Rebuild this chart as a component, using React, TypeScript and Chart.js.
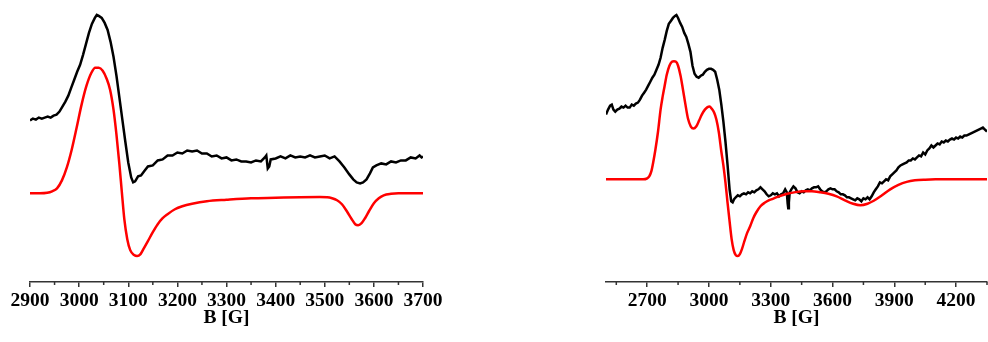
import React, { useEffect, useRef } from "react";
import { Chart, registerables } from "chart.js";

Chart.register(...registerables);

// ---- Spectrum A (left panel): field in G, intensity in arbitrary units ----
const fieldA = [
  2900, 2906, 2912, 2918, 2924, 2930, 2936, 2942, 2948, 2954, 2960, 2966, 2972, 2978, 2984, 2990,
  2996, 3002, 3008, 3014, 3020, 3026, 3032, 3036, 3040, 3046, 3052, 3058, 3064, 3070, 3076, 3082,
  3088, 3094, 3100, 3106, 3110, 3114, 3120, 3126, 3132, 3140, 3150, 3160, 3170, 3180, 3190, 3200,
  3210, 3220, 3230, 3240, 3250, 3260, 3270, 3280, 3290, 3300, 3310, 3320, 3330, 3340, 3350, 3360,
  3370, 3378, 3381, 3384, 3387, 3390, 3400, 3410, 3420, 3430, 3440, 3450, 3460, 3470, 3480, 3490,
  3500, 3510, 3520, 3530, 3540, 3550, 3558, 3565, 3572, 3578, 3585, 3592, 3598, 3605, 3615, 3625,
  3635, 3645, 3655, 3665, 3675, 3685, 3693, 3697, 3700,
];
const expA = [
  162, 164, 163, 165, 164, 165, 166, 165, 167, 168, 171, 176, 181, 187, 195, 203,
  211, 218, 228, 239, 250, 259, 265, 268, 267, 265, 260, 253, 241, 226, 207, 185,
  163, 141, 120, 105, 100, 101, 106, 107, 111, 116, 117, 122, 123, 127, 127, 130,
  129, 132, 131, 132, 129, 129, 126, 127, 124, 125, 122, 123, 121, 121, 120, 122,
  121, 125, 127, 114, 116, 123, 124, 126, 124, 127, 125, 126, 125, 127, 125, 126,
  127, 124, 126, 121, 115, 108, 103, 100, 99, 100, 103, 109, 115, 117, 119, 118,
  121, 120, 122, 122, 125, 124, 127, 125, 126,
];
const simFieldA = [
  2900, 2920, 2935, 2945, 2955, 2965, 2975, 2985, 2995, 3005, 3015, 3025, 3033, 3040, 3048, 3056,
  3063, 3070, 3076, 3082, 3087, 3092, 3098, 3104, 3112, 3118, 3125, 3132, 3140, 3150, 3160, 3170,
  3180, 3195, 3210, 3230, 3260, 3300, 3350, 3400, 3450, 3490, 3505, 3515, 3525, 3535, 3545, 3555,
  3562, 3568, 3575, 3582, 3590, 3600, 3610, 3620, 3635, 3650, 3700,
];
const simA = [
  89, 89, 89.5, 91, 94, 102, 115, 133, 155, 178, 197, 210, 215, 215, 212, 204,
  193, 173, 148, 118, 90, 63, 43, 32, 27, 26, 28, 34, 41, 50, 58, 64,
  68, 73, 76, 78.5, 81, 82.5, 84, 84.5, 85, 85.2, 85, 84, 82, 78, 71, 63,
  58, 57, 59, 64, 71, 79, 84, 87, 88.5, 89, 89,
];
const majorA = [2900, 3000, 3100, 3200, 3300, 3400, 3500, 3600, 3700];
const minorA = [2950, 3050, 3150, 3250, 3350, 3450, 3550, 3650];

// ---- Spectrum B (right panel) ----
const fieldB = [
  2500, 2510, 2520, 2528, 2536, 2545, 2555, 2565, 2575, 2585, 2595, 2605, 2615, 2625, 2635, 2645,
  2655, 2665, 2675, 2685, 2695, 2705, 2715, 2725, 2735, 2745, 2755, 2765, 2775, 2785, 2795, 2805,
  2815, 2825, 2835, 2842, 2850, 2860, 2870, 2880, 2890, 2900, 2910, 2920, 2930, 2940, 2950, 2960,
  2970, 2980, 2990, 3000, 3010, 3020, 3030, 3040, 3050, 3060, 3070, 3080, 3090, 3100, 3108, 3115,
  3122, 3130, 3140, 3150, 3160, 3170, 3180, 3190, 3200, 3210, 3220, 3230, 3240, 3250, 3260, 3270,
  3280, 3290, 3300, 3310, 3320, 3330, 3340, 3350, 3360, 3370, 3378, 3382, 3385, 3388, 3392, 3400,
  3410, 3420, 3430, 3440, 3450, 3460, 3470, 3480, 3490, 3500, 3510, 3520, 3530, 3540, 3550, 3560,
  3570, 3580, 3590, 3600, 3610, 3620, 3630, 3640, 3650, 3660, 3670, 3680, 3690, 3700, 3710, 3720,
  3730, 3740, 3750, 3760, 3770, 3780, 3790, 3800, 3810, 3820, 3830, 3840, 3850, 3860, 3870, 3880,
  3890, 3900, 3910, 3920, 3930, 3940, 3950, 3960, 3970, 3980, 3990, 4000, 4010, 4020, 4030, 4040,
  4050, 4060, 4070, 4080, 4090, 4100, 4110, 4120, 4130, 4140, 4150, 4160, 4170, 4180, 4190, 4200,
  4210, 4220, 4230, 4240, 4250, 4260, 4270, 4280, 4290, 4300, 4310, 4320, 4330, 4340, 4350,
];
const expB = [
  168, 173, 177, 178, 173, 171, 173, 174, 176, 175, 177, 175, 175, 178, 177, 179,
  180, 183, 187, 190, 193, 197, 201, 205, 208, 213, 218, 225, 235, 243, 252, 259,
  262, 265, 267, 268, 265, 260, 256, 250, 246, 239, 231, 217, 209, 206, 205, 207,
  208, 211, 213, 214, 214, 213, 211, 203, 193, 178, 161, 141, 118, 93, 81, 80,
  83, 85, 87, 86, 88, 89, 88, 90, 89, 91, 90, 92, 93, 95, 93, 91,
  88, 86, 87, 89, 88, 89, 86, 88, 89, 93, 90, 79, 74, 80, 90, 93,
  96, 94, 90, 89, 91, 90, 92, 93, 92, 94, 95, 95, 96, 93, 91, 90,
  91, 93, 94, 93, 93, 91, 90, 88, 88, 87, 85, 85, 84, 83, 82, 84,
  83, 81, 84, 83, 85, 83, 86, 90, 93, 96, 100, 99, 101, 103, 102, 106,
  108, 110, 112, 115, 117, 118, 119, 120, 122, 122, 124, 123, 125, 127, 126, 130,
  128, 132, 134, 137, 135, 137, 139, 138, 141, 140, 142, 141, 143, 144, 143, 145,
  144, 146, 145, 147, 147, 148, 149, 150, 151, 152, 153, 154, 155, 153, 151,
];
const simFieldB = [
  2500, 2680, 2700, 2710, 2720, 2730, 2740, 2752, 2765, 2775, 2784, 2795, 2808, 2820, 2830, 2840,
  2850, 2862, 2873, 2885, 2898, 2912, 2925, 2938, 2952, 2965, 2980, 2993, 3003, 3013, 3025, 3036,
  3048, 3060, 3070, 3080, 3090, 3100, 3110, 3120, 3130, 3140, 3150, 3160, 3172, 3185, 3200, 3215,
  3230, 3250, 3270, 3290, 3310, 3340, 3380, 3420, 3460, 3500, 3540, 3580, 3620, 3660, 3700, 3735,
  3770, 3800, 3840, 3880, 3920, 3960, 4000, 4050, 4100, 4350,
];
const simB = [
  103, 103, 104, 106, 111, 121, 133, 150, 173, 186, 196, 208, 217, 221, 221.5, 221,
  217, 207, 194, 179, 164, 156, 154, 156, 162, 168, 173, 175.5, 176, 174, 170, 163,
  150, 131, 117, 100, 80, 61, 43, 32, 27, 26, 28, 33, 41, 49, 56, 64,
  70, 76, 79.5, 82, 83.5, 86, 88.5, 90.2, 91, 91, 90, 88.5, 86, 82, 78.5, 77,
  78.5, 81.5, 87, 93, 97.5, 100.5, 102, 102.7, 103, 103,
];
const majorB = [2700, 3000, 3300, 3600, 3900, 4200];
const minorB = [2550, 2850, 3150, 3450, 3750, 4050, 4350];

const AXIS_COLOR = "#333333";
const FONT_FAMILY = "'Liberation Serif', 'Times New Roman', serif";

const toPoints = (xs: number[], ys: number[]) => xs.map((x, i) => ({ x, y: ys[i] }));

// Short unlabeled ticks between the labeled ones, placed through the x scale
const minorTickPlugin = (values: number[]) => ({
  id: "minorTicks",
  afterDraw(chart: any) {
    const scale = chart.scales.x;
    const ctx = chart.ctx;
    const y0 = chart.chartArea.bottom;
    ctx.save();
    ctx.strokeStyle = AXIS_COLOR;
    ctx.lineWidth = 1.5;
    ctx.beginPath();
    values.forEach((v) => {
      const px = scale.getPixelForValue(v);
      ctx.moveTo(px, y0);
      ctx.lineTo(px, y0 + 3);
    });
    ctx.stroke();
    ctx.restore();
  },
});

type PanelProps = {
  left: number;
  width: number;
  padLeft: number;
  padRight: number;
  xMin: number;
  xMax: number;
  major: number[];
  minor: number[];
  field: number[];
  exp: number[];
  simField: number[];
  sim: number[];
};

function SpectrumPanel(p: PanelProps) {
  const ref = useRef<HTMLCanvasElement>(null);

  useEffect(() => {
    if (!ref.current) return;
    const chart = new Chart(ref.current, {
      type: "line",
      data: {
        datasets: [
          {
            data: toPoints(p.simField, p.sim),
            borderColor: "#ff0000",
            borderWidth: 2.5,
            pointRadius: 0,
            cubicInterpolationMode: "monotone",
            fill: false,
          },
          {
            data: toPoints(p.field, p.exp),
            borderColor: "#000000",
            borderWidth: 2.5,
            pointRadius: 0,
            tension: 0,
            fill: false,
          },
        ],
      },
      options: {
        animation: false,
        responsive: false,
        maintainAspectRatio: false,
        layout: { padding: { left: p.padLeft, right: p.padRight, top: 0, bottom: 14.5 } },
        plugins: { legend: { display: false }, tooltip: { enabled: false } },
        scales: {
          x: {
            type: "linear",
            min: p.xMin,
            max: p.xMax,
            afterBuildTicks: (scale: any) => {
              scale.ticks = p.major.map((v) => ({ value: v }));
            },
            border: { display: true, color: AXIS_COLOR, width: 1.5 },
            grid: {
              display: true,
              drawOnChartArea: false,
              drawTicks: true,
              tickLength: 5,
              color: AXIS_COLOR,
              lineWidth: 1.5,
            },
            ticks: {
              color: "#000000",
              padding: 4.5,
              maxRotation: 0,
              autoSkip: false,
              callback: (v: any) => String(v),
              font: { family: FONT_FAMILY, size: 19.5, weight: "bold", lineHeight: 1 },
            },
            title: {
              display: true,
              text: "B [G]",
              color: "#000000",
              padding: { top: -7.5, bottom: 0 },
              font: { family: FONT_FAMILY, size: 19.5, weight: "bold", lineHeight: 1 },
            },
          },
          y: {
            type: "linear",
            display: false,
            min: 0,
            max: 283,
          },
        },
      },
      plugins: [minorTickPlugin(p.minor)],
    } as any);
    return () => chart.destroy();
  }, []);

  return (
    <div style={{ position: "absolute", left: p.left, top: 0, width: p.width, height: 342 }}>
      <canvas ref={ref} width={p.width} height={342} style={{ display: "block" }} />
    </div>
  );
}

export default function App() {
  return (
    <div
      style={{
        position: "absolute",
        left: 0,
        top: 0,
        width: 988,
        height: 342,
        background: "#ffffff",
        overflow: "hidden",
      }}
    >
      <SpectrumPanel
        left={0}
        width={470}
        padLeft={30}
        padRight={47}
        xMin={2900}
        xMax={3700}
        major={majorA}
        minor={minorA}
        field={fieldA}
        exp={expA}
        simField={simFieldA}
        sim={simA}
      />
      <SpectrumPanel
        left={546}
        width={442}
        padLeft={60}
        padRight={1}
        xMin={2500}
        xMax={4350}
        major={majorB}
        minor={minorB}
        field={fieldB}
        exp={expB}
        simField={simFieldB}
        sim={simB}
      />
    </div>
  );
}
